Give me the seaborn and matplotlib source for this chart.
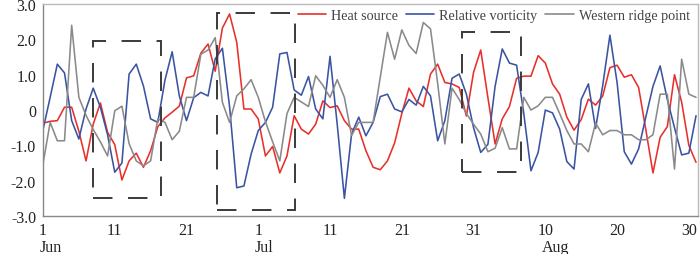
import numpy as np
import pandas as pd
import matplotlib
matplotlib.use("Agg")
import matplotlib.pyplot as plt
from matplotlib.lines import Line2D
from matplotlib.patches import Rectangle
import seaborn as sns

# days counted from 1 June to 31 August
days = np.arange(1, 93)

heat_source = [
    -0.37, -0.32, -0.30, 0.08, 0.08, -0.60, -1.44, -0.40, 0.20, -0.63,
    -0.98, -1.98, -1.44, -1.22, -1.62, -1.15, -0.47, -0.22, -0.06, 0.11,
    0.91, 0.97, 1.61, 1.87, 1.10, 2.32, 2.72, 1.92, 0.03, 0.03,
    -0.25, -1.30, -1.03, -1.78, -1.30, -0.16, -0.54, -0.68, -0.40, 0.26,
    0.07, 0.12, -0.30, -0.54, -0.54, -1.15, -1.62, -1.69, -1.44, -0.93,
    -0.10, 0.62, 0.26, 0.10, 1.02, 1.30, 0.78, 0.74, 0.64, -0.17,
    1.07, 1.70, 0.35, -0.96, -0.25, 0.10, 0.90, 0.96, 0.96, 1.54,
    1.33, 0.74, 0.45, -0.20, -0.57, -0.27, 0.31, 0.14, 0.40, 1.20,
    1.27, 0.93, 1.00, 0.64, -0.55, -1.78, -0.77, -0.47, 1.00, 0.22,
    -1.00, -1.48,
]

rel_vorticity = [
    -0.56, 0.36, 1.30, 1.05, -0.30, -0.82, 0.03, 0.62, 0.08, -0.70,
    -1.76, -1.50, 1.02, 1.30, 0.68, -0.25, -0.35, 0.85, 1.65, 0.40,
    -0.30, 0.35, 0.50, 0.40, 1.45, 1.75, 0.10, -2.20, -2.15, -1.25,
    -0.58, -0.35, 0.08, 1.59, 1.63, 0.57, 0.42, 0.95, 0.03, -0.25,
    1.52, -0.40, -2.50, -0.68, -0.20, -0.73, -0.35, 0.38, 0.45, 0.03,
    -0.05, 0.30, 0.14, 0.67, 0.40, -0.87, -0.30, 0.90, 1.02, 0.45,
    -0.50, -1.20, -0.97, 0.67, 1.73, 1.33, 1.27, -0.10, -1.72, -1.20,
    0.00, -0.08, -0.54, -1.46, -1.67, 0.30, 0.74, -0.52, 0.70, 2.12,
    0.78, -1.18, -1.53, -1.10, -0.20, 0.67, 1.25, 0.30, -0.50, -1.27,
    -1.22, -0.16,
]

ridge_point = [
    -1.53, -0.35, -0.87, -0.87, 2.40, 0.36, -0.15, -0.55, -0.90, -1.30,
    -0.02, 0.11, -0.95, -1.44, -1.58, -1.44, -0.25, -0.35, -0.84, -0.60,
    0.36, 0.36, 1.58, 1.70, 2.05, 0.22, -0.35, 0.40, 0.60, 0.86,
    0.36, -0.33, -0.90, -1.44, -0.10, 0.36, 0.23, 0.10, 0.97, 0.70,
    0.36, 0.86, 0.36, -0.72, -0.35, -0.35, -0.35, 0.93, 2.20, 1.44,
    2.27, 1.83, 1.60, 2.48, 2.30, 0.75, -0.96, 0.62, 0.30, -0.10,
    -0.40, -0.68, -1.18, -1.08, -0.50, -1.10, -1.10, 0.36, 0.00, 0.12,
    0.36, 0.36, -0.10, -0.58, -0.96, -0.96, -1.18, -0.37, -0.70, -0.58,
    -0.58, -0.70, -0.70, -0.84, -0.84, -0.70, 0.45, 0.45, -1.67, 1.44,
    0.45, 0.36,
]

series_names = ["Heat source", "Relative vorticity", "Western ridge point"]
series_colors = ["#e8302a", "#3b54a2", "#8a8a8a"]

tick_days = [1, 11, 21, 31, 41, 51, 61, 71, 81, 91]
tick_labels = ["1", "11", "21", "1", "11", "21", "31", "10", "20", "30"]
months = ["Jun", "Jul", "Aug"]
month_days = [1, 31, 71]

y_ticks = [-3, -2, -1, 0, 1, 2, 3]
y_labels = ["-3.0", "-2.0", "-1.0", "0", "1.0", "2.0", "3.0"]

# dashed boxes marking the periods: (day start, day end, low, high)
boxes = [(8.0, 17.5, -2.5, 1.95), (25.3, 36.1, -2.82, 2.75), (59.4, 67.6, -1.75, 2.2)]

df = pd.DataFrame({
    "day": np.tile(days, 3),
    "value": np.concatenate([heat_source, rel_vorticity, ridge_point]),
    "series": np.repeat(series_names, len(days)),
})

sns.set_theme(style="white")
plt.rcParams["font.family"] = ["Liberation Serif", "DejaVu Serif"]

fig = plt.figure(figsize=(7, 2.55), dpi=100)
ax = fig.add_axes([0.0614, 0.149, 0.936, 0.831])

palette = dict(zip(series_names, series_colors))
sns.lineplot(data=df, x="day", y="value", hue="series", palette=palette,
             linewidth=1.15, ax=ax, legend=False)

for x0, x1, y0, y1 in boxes:
    ax.add_patch(Rectangle((x0, y0), x1 - x0, y1 - y0, fill=False,
                           edgecolor="#3a3a3a", linewidth=1.4,
                           linestyle=(0, (10, 8)), zorder=4))

ax.set_xlim(1, 92.3)
ax.set_ylim(-3, 3)
ax.set_xlabel("")
ax.set_ylabel("")

ax.set_yticks(y_ticks)
ax.set_yticklabels(y_labels, fontsize=11.5, color="#222222")
ax.set_xticks(tick_days)
ax.set_xticklabels(tick_labels, fontsize=11.5, color="#222222")
ax.set_xticks(days, minor=True)
ax.tick_params(axis="x", which="both", direction="in", length=4, width=0.8,
               color="#777777", pad=4)
ax.tick_params(axis="y", which="major", direction="out", length=3, width=0.8,
               color="#777777", pad=2)

for m, d in zip(months, month_days):
    ax.text(d - 0.45, -0.147, m, transform=ax.get_xaxis_transform(),
            ha="left", va="center", fontsize=11.5, color="#222222")

for side in ["left", "bottom"]:
    ax.spines[side].set_color("#888888")
    ax.spines[side].set_linewidth(1.0)
for side in ["top", "right"]:
    ax.spines[side].set_color("#bbbbbb")
    ax.spines[side].set_linewidth(1.0)

handles = [Line2D([0], [0], color=c, linewidth=1.2) for c in series_colors]
leg = ax.legend(handles, series_names, loc="upper right", bbox_to_anchor=(1.0, 1.015),
                ncol=3, frameon=False, fontsize=10.2, handlelength=2.0,
                handletextpad=0.35, columnspacing=0.55, borderaxespad=0.2)
for t in leg.get_texts():
    t.set_color("#444444")

fig.savefig("out.png", dpi=100, facecolor="white")
